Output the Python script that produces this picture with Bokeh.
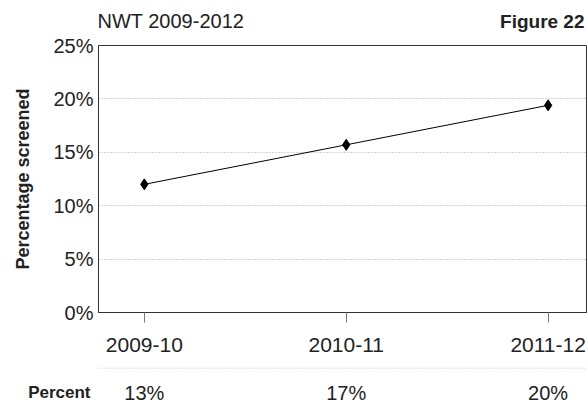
from bokeh.plotting import figure
from bokeh.models import FixedTicker, Range1d, ColumnDataSource, Span
from bokeh.layouts import column
from bokeh.core.properties import value
from bokeh.embed import file_html
from bokeh.resources import INLINE

# ---- data ----
years = ["2009-10", "2010-11", "2011-12"]
pct_screened = [12.0, 15.7, 19.4]
table_values = ["13%", "17%", "20%"]
y_ticks = [0, 5, 10, 15, 20, 25]
title_text = "NWT 2009-2012"
figure_text = "Figure 22"
y_label = "Percentage screened"
table_label = "Percent"

FONT = "Liberation Sans"
TXT = "#222222"
W_LEFT, FRAME_W, W_RIGHT = 98, 488, 1
xs = list(range(len(years)))
x_range = Range1d(-0.227, 2.19)

def base(frame_h, top, bottom, xr, yr):
    f = figure(frame_width=FRAME_W, frame_height=frame_h, output_backend="svg",
               toolbar_location=None, x_range=xr, y_range=yr,
               min_border_left=W_LEFT, min_border_right=W_RIGHT,
               min_border_top=top, min_border_bottom=bottom)
    f.background_fill_color = "white"
    f.border_fill_color = "white"
    return f

# ---- header ----
HDR_H = 33
ph = base(HDR_H, 0, 0, Range1d(0, 1), Range1d(0, HDR_H))
ph.axis.visible = False
ph.grid.visible = False
ph.outline_line_color = None
ph.text(x=[0], y=[12.5], text=[title_text], text_font=value(FONT),
        text_font_size="20px", text_color=TXT, text_align="left",
        text_baseline="alphabetic", x_offset=-1)
ph.text(x=[1], y=[12], text=[figure_text], text_font=value(FONT),
        text_font_size="19px", text_font_style="bold", text_color=TXT,
        text_align="right", text_baseline="alphabetic", x_offset=-2)

# ---- main chart ----
src = ColumnDataSource(dict(x=xs, y=pct_screened))
p = base(267, 12, 55, x_range, Range1d(0, 25))
p.outline_line_color = "#333333"
p.line("x", "y", source=src, line_color="black", line_width=1)
p.scatter("x", "y", source=src, marker="diamond", size=11,
          fill_color="black", line_color="black")

xa = p.xaxis[0]
xa.ticker = FixedTicker(ticks=xs, minor_ticks=[])
xa.major_label_overrides = {i: s for i, s in enumerate(years)}
xa.major_tick_out = 10
xa.major_tick_in = 0
xa.major_tick_line_color = "#777777"
xa.axis_line_color = "#333333"
xa.major_label_standoff = 15
xa.major_label_text_font = FONT
xa.major_label_text_font_size = "21px"
xa.major_label_text_color = TXT

ya = p.yaxis[0]
ya.ticker = FixedTicker(ticks=y_ticks, minor_ticks=[])
ya.major_label_overrides = {v: f"{v}%" for v in y_ticks}
ya.major_tick_line_color = None
ya.minor_tick_line_color = None
ya.major_tick_out = 0
ya.major_tick_in = 0
ya.axis_line_color = "#333333"
ya.major_label_standoff = 5
ya.major_label_text_font = FONT
ya.major_label_text_font_size = "20px"
ya.major_label_text_color = TXT
ya.axis_label = y_label
ya.axis_label_text_font = FONT
ya.axis_label_text_font_style = "bold"
ya.axis_label_text_font_size = "18px"
ya.axis_label_text_color = TXT
ya.axis_label_standoff = 17

p.xgrid.grid_line_color = None
p.ygrid.ticker = FixedTicker(ticks=y_ticks)
p.ygrid.grid_line_color = "#aaaaaa"
p.ygrid.grid_line_dash = "1 2"

# ---- table footer ----
FT_H = 35
pf = base(FT_H, 0, 0, x_range, Range1d(0, FT_H))
pf.outline_line_color = None
pf.xaxis.visible = False
pf.grid.visible = False
row_y = 10
fy = pf.yaxis[0]
fy.ticker = FixedTicker(ticks=[row_y], minor_ticks=[])
fy.major_label_overrides = {row_y: table_label}
fy.axis_line_color = None
fy.major_tick_line_color = None
fy.minor_tick_line_color = None
fy.major_tick_out = 0
fy.major_tick_in = 0
fy.major_label_standoff = 8
fy.major_label_text_font = FONT
fy.major_label_text_font_style = "bold"
fy.major_label_text_font_size = "17px"
fy.major_label_text_color = TXT
pf.add_layout(Span(location=FT_H - 0.5, dimension="width",
                   line_color="#aaaaaa", line_dash="1 2", line_width=1))
pf.text(x=xs, y=[row_y] * len(xs), text=table_values, text_font=value(FONT),
        text_font_size="20px", text_color=TXT, text_align="center",
        text_baseline="middle")

layout = column(ph, p, pf, spacing=0)
open("out.html", "w").write(file_html(layout, INLINE))
